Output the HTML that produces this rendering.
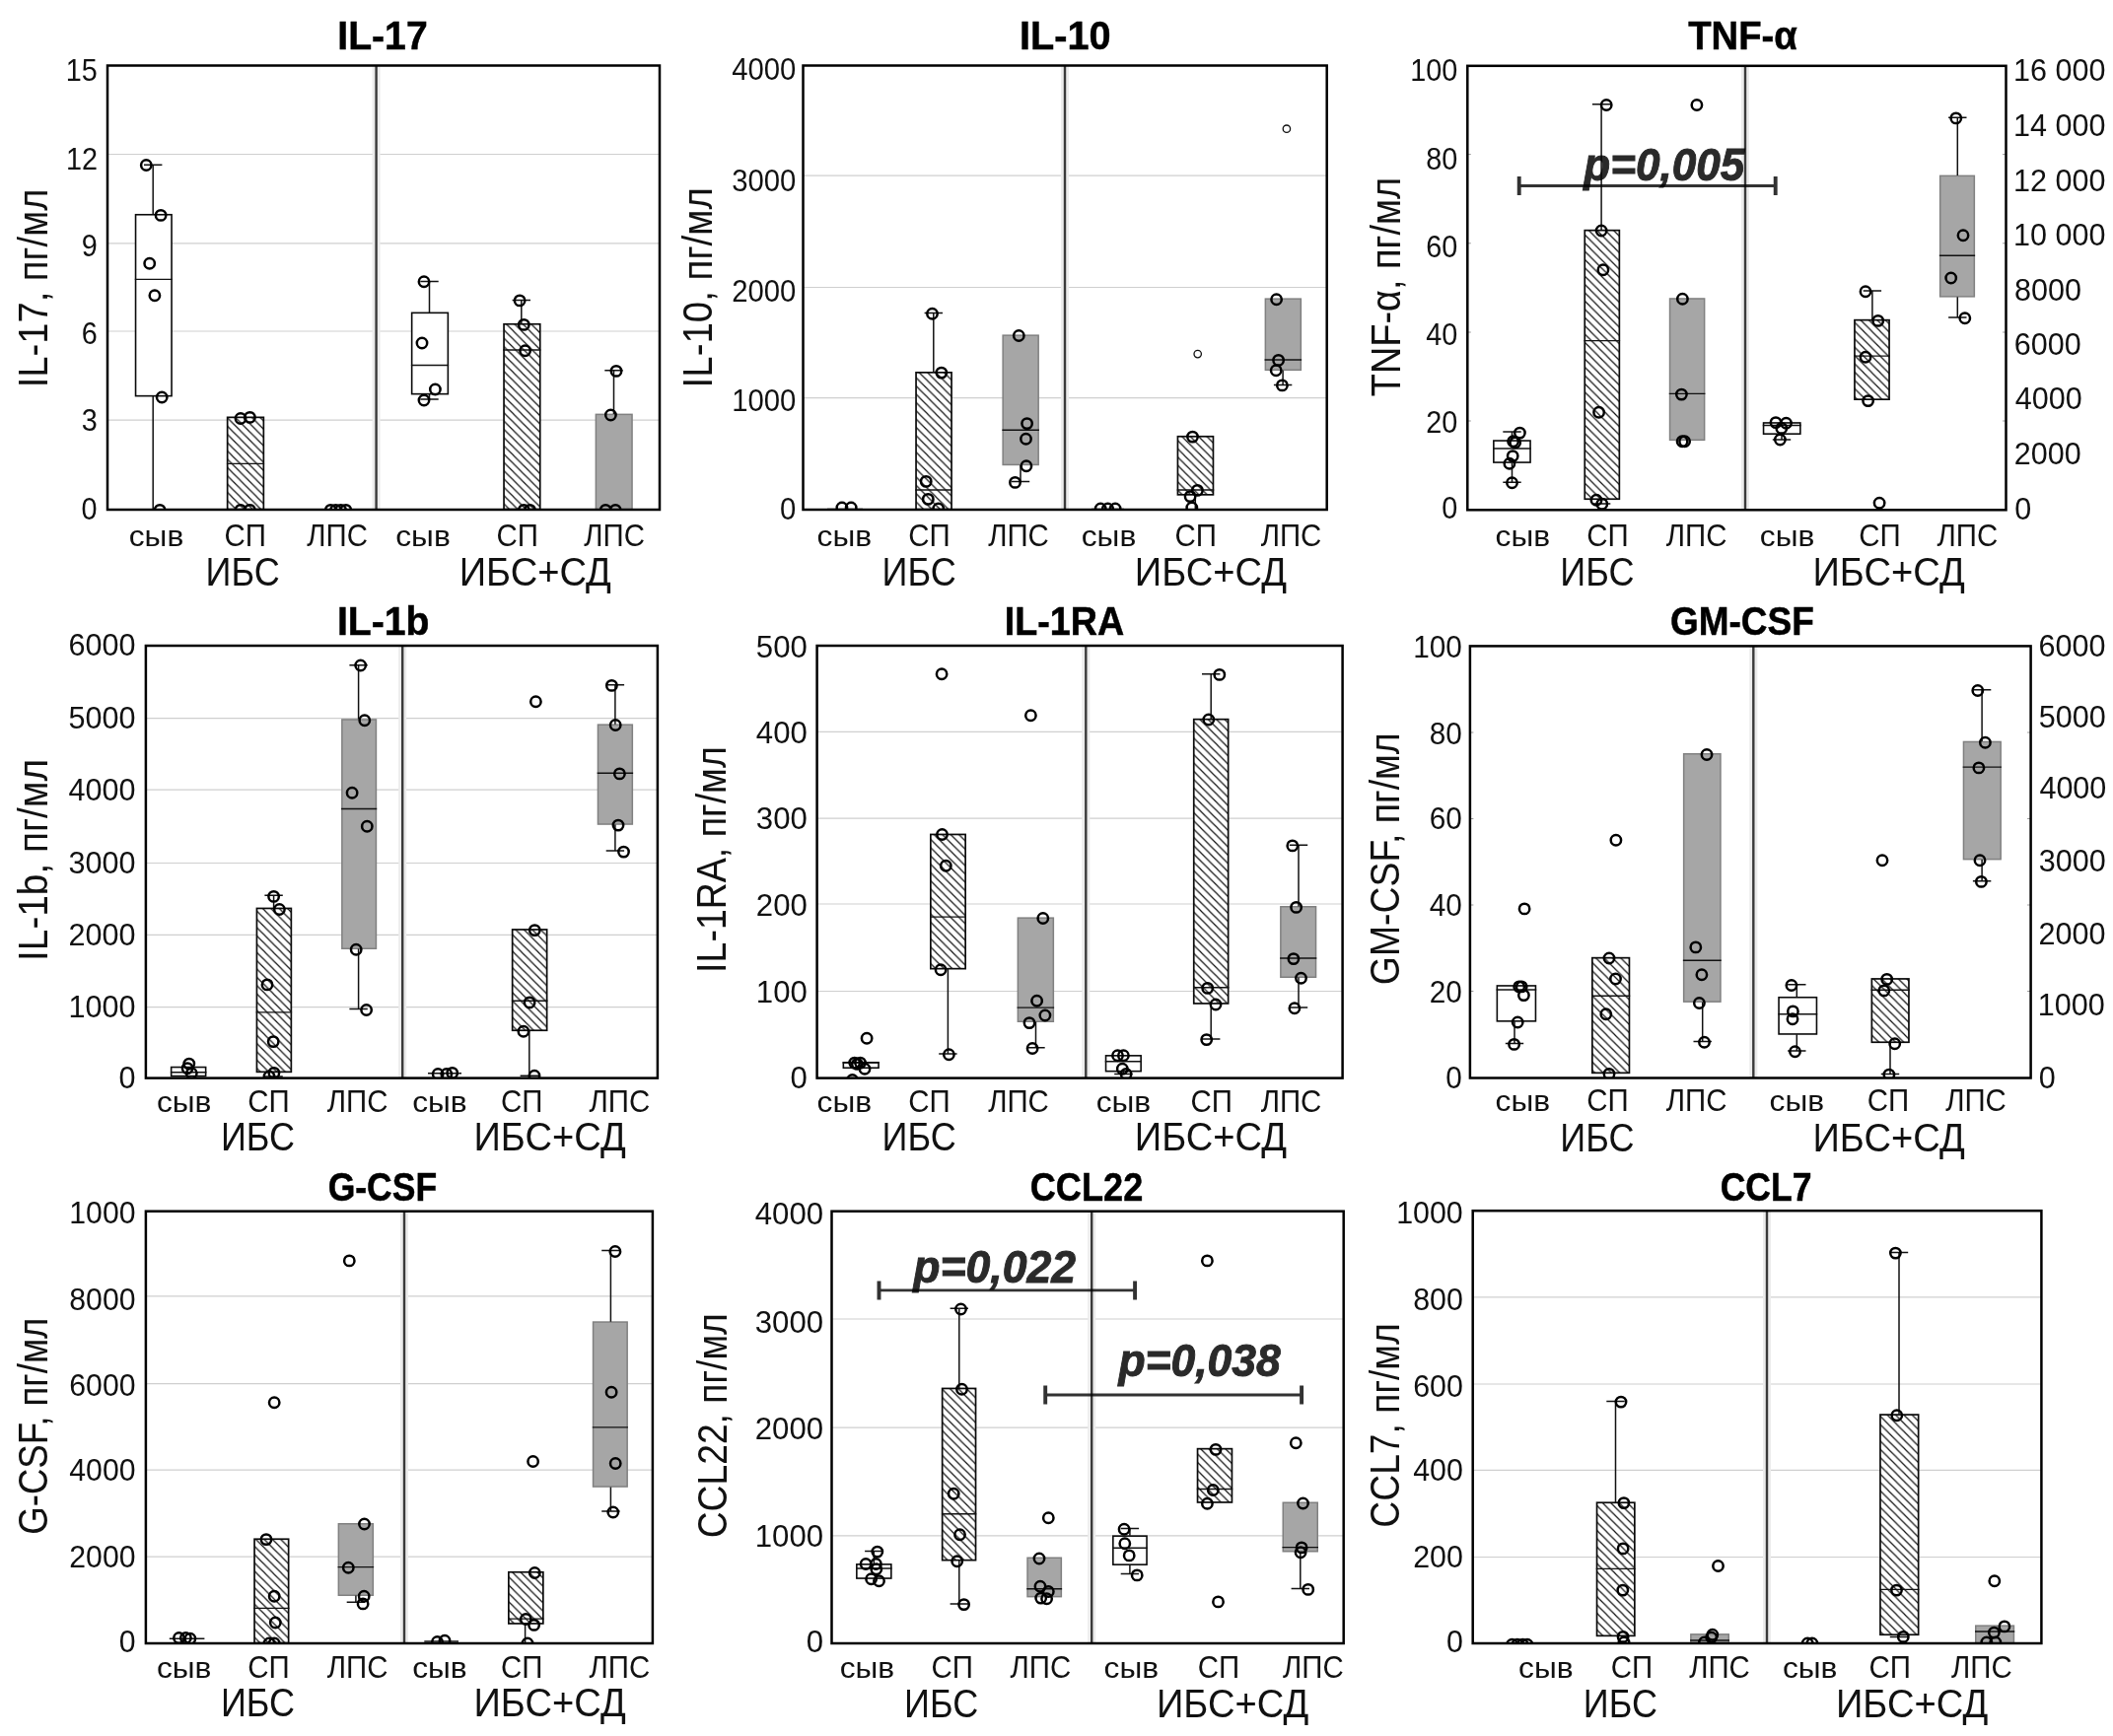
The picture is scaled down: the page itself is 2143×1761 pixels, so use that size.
<!DOCTYPE html>
<html lang="ru"><head><meta charset="utf-8"><title>Cytokines</title>
<style>
html,body{margin:0;padding:0;background:#fff;}
body{width:2143px;height:1761px;overflow:hidden;}
svg{display:block;font-family:"Liberation Sans",sans-serif;}
.fr{fill:none;stroke:#000;stroke-width:2.5}
.dv{stroke:#3a3a3a;stroke-width:2.4}
.dvh{stroke:#ececec;stroke-width:8}
.gr{stroke:#cfcfcf;stroke-width:1.2}
.tk{stroke:#999;stroke-width:1}
.bw{fill:#fff;stroke:#0a0a0a;stroke-width:1.6}
.bh{fill:url(#hatch);stroke:#0a0a0a;stroke-width:1.7}
.bg{fill:#a6a6a6;stroke:#808080;stroke-width:1.5}
.md{stroke:#111;stroke-width:1.4}
.wh{stroke:#111;stroke-width:1.5}
.pt{fill:none;stroke:#000;stroke-width:2.5}
.ps{fill:none;stroke:#111;stroke-width:1.3}
.pvl{stroke:#303030;stroke-width:2.9}
.pvc{stroke:#303030;stroke-width:3.9}
</style></head><body>
<svg width="2143" height="1761" viewBox="0 0 2143 1761">
<defs>
<pattern id="hatch" patternUnits="userSpaceOnUse" width="8.4" height="8.4">
<rect width="8.4" height="8.4" fill="#fff"/>
<path d="M-2.1 -2.1L10.5 10.5M-2.1 6.3L2.1 10.5M6.3 -2.1L10.5 2.1" stroke="#111" stroke-width="1.2" fill="none"/>
</pattern>
<filter id="soft" x="-5%" y="-20%" width="110%" height="140%"><feGaussianBlur stdDeviation="0.75"/></filter>
</defs>
<rect width="2143" height="1761" fill="#fff"/>

<g id="p1">
<clipPath id="c1"><rect x="109" y="66.5" width="560" height="450.5"/></clipPath>
<g clip-path="url(#c1)">
<line class="gr" x1="109" x2="669" y1="156.5" y2="156.5"/>
<line class="gr" x1="109" x2="669" y1="246.8" y2="246.8"/>
<line class="gr" x1="109" x2="669" y1="336" y2="336"/>
<line class="gr" x1="109" x2="669" y1="426.2" y2="426.2"/>
<line class="dvh" x1="381.6" x2="381.6" y1="66.5" y2="517"/>
<rect class="bw" x="137.55" y="217.75" width="36.5" height="183.9"/>
<line class="md" x1="136.8" x2="174.8" y1="283.4" y2="283.4"/>
<path class="wh" d="M155.2 167.3V217.4M146 167.3H164.4" fill="none"/>
<path class="wh" d="M155.2 402V517M146 517H164.4" fill="none"/>
<circle class="pt" cx="148.3" cy="167.5" r="5.2"/>
<circle class="pt" cx="163.1" cy="218.4" r="5.2"/>
<circle class="pt" cx="151.7" cy="267.2" r="5.2"/>
<circle class="pt" cx="156.9" cy="299.7" r="5.2"/>
<circle class="pt" cx="164.2" cy="403" r="5.2"/>
<circle class="pt" cx="162.1" cy="517.4" r="5.2"/>
<rect class="bh" x="230.65" y="423.35" width="36.7" height="93.3"/>
<line class="md" x1="229.9" x2="268.1" y1="470.4" y2="470.4"/>
<circle class="pt" cx="244" cy="424.5" r="5.2"/>
<circle class="pt" cx="253.4" cy="423.4" r="5.2"/>
<circle class="pt" cx="244" cy="517.4" r="5.2"/>
<circle class="pt" cx="253.4" cy="517.4" r="5.2"/>
<line class="md" x1="327" x2="358" y1="517" y2="517" stroke-width="2"/>
<circle class="pt" cx="335.3" cy="517.4" r="5.2"/>
<circle class="pt" cx="340.5" cy="517.4" r="5.2"/>
<circle class="pt" cx="345.6" cy="517.4" r="5.2"/>
<circle class="pt" cx="350.8" cy="517.4" r="5.2"/>
<rect class="bw" x="417.65" y="317.35" width="36.7" height="82.3"/>
<line class="md" x1="416.9" x2="455.1" y1="370.5" y2="370.5"/>
<path class="wh" d="M435.5 285.5V317M426.3 285.5H444.7" fill="none"/>
<path class="wh" d="M435.5 400V405M426.3 405H444.7" fill="none"/>
<circle class="pt" cx="430" cy="285.8" r="5.2"/>
<circle class="pt" cx="428" cy="348" r="5.2"/>
<circle class="pt" cx="441.4" cy="395" r="5.2"/>
<circle class="pt" cx="430" cy="406" r="5.2"/>
<rect class="bh" x="511.05" y="328.75" width="36.7" height="187.9"/>
<line class="md" x1="510.3" x2="548.5" y1="355" y2="355"/>
<path class="wh" d="M528.8 304.5V328.4M519.6 304.5H538" fill="none"/>
<circle class="pt" cx="527.1" cy="304.9" r="5.2"/>
<circle class="pt" cx="531.3" cy="329.4" r="5.2"/>
<circle class="pt" cx="532.6" cy="355.7" r="5.2"/>
<circle class="pt" cx="531.3" cy="517.4" r="5.2"/>
<circle class="pt" cx="537.5" cy="517.4" r="5.2"/>
<rect class="bg" x="604.35" y="420.35" width="36.7" height="96.3"/>
<path class="wh" d="M622.5 375.7V420M613.3 375.7H631.7" fill="none"/>
<circle class="pt" cx="625" cy="376.4" r="5.2"/>
<circle class="pt" cx="619.4" cy="421" r="5.2"/>
<circle class="pt" cx="614.2" cy="517.4" r="5.2"/>
<circle class="pt" cx="624.2" cy="517.4" r="5.2"/>
<line class="dv" x1="381.6" x2="381.6" y1="66.5" y2="517"/>
</g>
<rect class="fr" x="109" y="66.5" width="560" height="450.5"/>
<text transform="translate(342.25 50) scale(0.9798 1)" font-size="40" font-weight="bold" fill="#000" stroke="#000" stroke-width="0.5">IL-17</text>
<text transform="translate(48.39 393.34) rotate(-90) scale(0.9088 1)" font-size="42" fill="#111">IL-17, пг/мл</text>
<text transform="translate(66.65 81.75) scale(0.9300 1)" font-size="31" fill="#111">15</text>
<text transform="translate(66.94 171.55) scale(0.9300 1)" font-size="31" fill="#111">12</text>
<text transform="translate(82.8 259.75) scale(0.9300 1)" font-size="31" fill="#111">9</text>
<text transform="translate(82.65 348.55) scale(0.9300 1)" font-size="31" fill="#111">6</text>
<text transform="translate(82.65 437.35) scale(0.9300 1)" font-size="31" fill="#111">3</text>
<text transform="translate(82.51 526.55) scale(0.9300 1)" font-size="31" fill="#111">0</text>
<text transform="translate(130.73 554) scale(1.0832 1)" font-size="29.3" fill="#111">сыв</text>
<text transform="translate(227.43 554) scale(0.9505 1)" font-size="31" fill="#111">СП</text>
<text transform="translate(311.26 554) scale(0.9489 1)" font-size="31" fill="#111">ЛПС</text>
<text transform="translate(401.23 554) scale(1.0832 1)" font-size="29.3" fill="#111">сыв</text>
<text transform="translate(503.53 554) scale(0.9505 1)" font-size="31" fill="#111">СП</text>
<text transform="translate(592.26 554) scale(0.9489 1)" font-size="31" fill="#111">ЛПС</text>
<text transform="translate(208.62 593.7) scale(0.8855 1)" font-size="40.7" fill="#111">ИБС</text>
<text transform="translate(465.65 593.7) scale(0.9368 1)" font-size="40.7" fill="#111">ИБС+СД</text>
</g>
<g id="p2">
<clipPath id="c2"><rect x="814.5" y="66.5" width="531.2" height="450.5"/></clipPath>
<g clip-path="url(#c2)">
<line class="gr" x1="814.5" x2="1345.7" y1="178.1" y2="178.1"/>
<line class="gr" x1="814.5" x2="1345.7" y1="291.5" y2="291.5"/>
<line class="gr" x1="814.5" x2="1345.7" y1="403.7" y2="403.7"/>
<line class="dvh" x1="1080" x2="1080" y1="66.5" y2="517"/>
<line class="md" x1="839" x2="875" y1="516.5" y2="516.5" stroke-width="2"/>
<circle class="pt" cx="853.9" cy="515" r="5.2"/>
<circle class="pt" cx="863.2" cy="515" r="5.2"/>
<rect class="bh" x="929.05" y="377.85" width="36" height="138.8"/>
<line class="md" x1="928.3" x2="965.8" y1="497" y2="497"/>
<path class="wh" d="M946.8 317.6V377.5M937.6 317.6H956" fill="none"/>
<circle class="pt" cx="945.5" cy="318.3" r="5.2"/>
<circle class="pt" cx="954.8" cy="378.1" r="5.2"/>
<circle class="pt" cx="939.2" cy="488.4" r="5.2"/>
<circle class="pt" cx="941.3" cy="506.4" r="5.2"/>
<circle class="pt" cx="951.7" cy="516" r="5.2"/>
<rect class="bg" x="1017.15" y="340.15" width="36" height="131.3"/>
<line class="md" x1="1016.4" x2="1053.9" y1="436.2" y2="436.2"/>
<path class="wh" d="M1035 471.8V488.4M1025.8 488.4H1044.2" fill="none"/>
<circle class="pt" cx="1033.3" cy="340.5" r="5.2"/>
<circle class="pt" cx="1041.6" cy="429.6" r="5.2"/>
<circle class="pt" cx="1040.5" cy="445.2" r="5.2"/>
<circle class="pt" cx="1040.9" cy="472.8" r="5.2"/>
<circle class="pt" cx="1029.5" cy="489.4" r="5.2"/>
<line class="md" x1="1107" x2="1140" y1="516.5" y2="516.5" stroke-width="2"/>
<circle class="pt" cx="1116.2" cy="516" r="5.2"/>
<circle class="pt" cx="1123.5" cy="516" r="5.2"/>
<circle class="pt" cx="1131.1" cy="516" r="5.2"/>
<rect class="bh" x="1194.45" y="442.75" width="36" height="59.1"/>
<line class="md" x1="1193.7" x2="1231.2" y1="497" y2="497"/>
<path class="wh" d="M1212.3 502.2V517M1203.1 517H1221.5" fill="none"/>
<circle class="pt" cx="1209.5" cy="443.1" r="5.2"/>
<circle class="pt" cx="1214.4" cy="497.4" r="5.2"/>
<circle class="pt" cx="1207.1" cy="503.6" r="5.2"/>
<circle class="pt" cx="1208.8" cy="515" r="5.2"/>
<circle class="ps" cx="1214.7" cy="359.1" r="3.7"/>
<rect class="bg" x="1283.35" y="303.15" width="36" height="72.2"/>
<line class="md" x1="1282.6" x2="1320.1" y1="365" y2="365"/>
<path class="wh" d="M1301.1 375.7V390.6M1291.9 390.6H1310.3" fill="none"/>
<circle class="pt" cx="1294.6" cy="303.8" r="5.2"/>
<circle class="pt" cx="1296.6" cy="365.4" r="5.2"/>
<circle class="pt" cx="1294.2" cy="375.7" r="5.2"/>
<circle class="pt" cx="1300.4" cy="390.9" r="5.2"/>
<circle class="ps" cx="1304.9" cy="130.7" r="3.7"/>
<line class="dv" x1="1080" x2="1080" y1="66.5" y2="517"/>
</g>
<rect class="fr" x="814.5" y="66.5" width="531.2" height="450.5"/>
<text transform="translate(1033.97 50) scale(0.9922 1)" font-size="40" font-weight="bold" fill="#000" stroke="#000" stroke-width="0.5">IL-10</text>
<text transform="translate(721.79 393.41) rotate(-90) scale(0.9157 1)" font-size="42" fill="#111">IL-10, пг/мл</text>
<text transform="translate(742.14 81.25) scale(0.9450 1)" font-size="31" fill="#111">4000</text>
<text transform="translate(742.14 194.05) scale(0.9450 1)" font-size="31" fill="#111">3000</text>
<text transform="translate(742.14 305.75) scale(0.9450 1)" font-size="31" fill="#111">2000</text>
<text transform="translate(742.14 417.25) scale(0.9450 1)" font-size="31" fill="#111">1000</text>
<text transform="translate(791.07 526.65) scale(0.9450 1)" font-size="31" fill="#111">0</text>
<text transform="translate(828.53 554) scale(1.0832 1)" font-size="29.3" fill="#111">сыв</text>
<text transform="translate(921.23 554) scale(0.9505 1)" font-size="31" fill="#111">СП</text>
<text transform="translate(1002.16 554) scale(0.9489 1)" font-size="31" fill="#111">ЛПС</text>
<text transform="translate(1096.73 554) scale(1.0832 1)" font-size="29.3" fill="#111">сыв</text>
<text transform="translate(1191.53 554) scale(0.9505 1)" font-size="31" fill="#111">СП</text>
<text transform="translate(1278.66 554) scale(0.9489 1)" font-size="31" fill="#111">ЛПС</text>
<text transform="translate(894.52 593.7) scale(0.8855 1)" font-size="40.7" fill="#111">ИБС</text>
<text transform="translate(1150.85 593.7) scale(0.9368 1)" font-size="40.7" fill="#111">ИБС+СД</text>
</g>
<g id="p3">
<clipPath id="c3"><rect x="1488.3" y="66.8" width="546.2" height="450.5"/></clipPath>
<g clip-path="url(#c3)">
<line class="tk" x1="1488.3" x2="1491.8" y1="156.6" y2="156.6"/>
<line class="tk" x1="2031" x2="2034.5" y1="156.6" y2="156.6"/>
<line class="tk" x1="1488.3" x2="1491.8" y1="246.8" y2="246.8"/>
<line class="tk" x1="2031" x2="2034.5" y1="246.8" y2="246.8"/>
<line class="tk" x1="1488.3" x2="1491.8" y1="337" y2="337"/>
<line class="tk" x1="2031" x2="2034.5" y1="337" y2="337"/>
<line class="tk" x1="1488.3" x2="1491.8" y1="427" y2="427"/>
<line class="tk" x1="2031" x2="2034.5" y1="427" y2="427"/>
<line class="dvh" x1="1770" x2="1770" y1="66.8" y2="517.3"/>
<rect class="bw" x="1514.85" y="447.05" width="37.2" height="22"/>
<line class="md" x1="1514.1" x2="1552.8" y1="455" y2="455"/>
<path class="wh" d="M1533.5 438V446.7M1524.3 438H1542.7" fill="none"/>
<path class="wh" d="M1533.5 469.4V489.3M1524.3 489.3H1542.7" fill="none"/>
<circle class="pt" cx="1541.4" cy="439.1" r="5.2"/>
<circle class="pt" cx="1534.6" cy="447.8" r="5.2"/>
<circle class="pt" cx="1536.7" cy="448.9" r="5.2"/>
<circle class="pt" cx="1534.2" cy="462.6" r="5.2"/>
<circle class="pt" cx="1530.9" cy="470.2" r="5.2"/>
<circle class="pt" cx="1533.5" cy="489.7" r="5.2"/>
<rect class="bh" x="1607.25" y="233.65" width="35.1" height="272.6"/>
<line class="md" x1="1606.5" x2="1643.1" y1="345.6" y2="345.6"/>
<path class="wh" d="M1624.1 105.8V233.3M1614.9 105.8H1633.3" fill="none"/>
<path class="wh" d="M1624.1 506.6V511M1614.9 511H1633.3" fill="none"/>
<circle class="pt" cx="1629.2" cy="106.5" r="5.2"/>
<circle class="pt" cx="1624.1" cy="234" r="5.2"/>
<circle class="pt" cx="1625.9" cy="273.7" r="5.2"/>
<circle class="pt" cx="1621.6" cy="418.2" r="5.2"/>
<circle class="pt" cx="1619" cy="507.3" r="5.2"/>
<circle class="pt" cx="1624.8" cy="511.3" r="5.2"/>
<rect class="bg" x="1693.55" y="302.95" width="35.1" height="143.4"/>
<line class="md" x1="1692.8" x2="1729.4" y1="399.4" y2="399.4"/>
<circle class="pt" cx="1720.9" cy="106.5" r="5.2"/>
<circle class="pt" cx="1706.4" cy="303.3" r="5.2"/>
<circle class="pt" cx="1705.4" cy="400.1" r="5.2"/>
<circle class="pt" cx="1706.1" cy="447.8" r="5.2"/>
<circle class="pt" cx="1708.6" cy="447.8" r="5.2"/>
<rect class="bw" x="1788.55" y="428.95" width="37.3" height="11.2"/>
<line class="md" x1="1787.8" x2="1826.6" y1="431.5" y2="431.5"/>
<path class="wh" d="M1807 440.5V446M1797.8 446H1816.2" fill="none"/>
<circle class="pt" cx="1801" cy="428.6" r="5.2"/>
<circle class="pt" cx="1811.5" cy="429.3" r="5.2"/>
<circle class="pt" cx="1806.8" cy="434.4" r="5.2"/>
<circle class="pt" cx="1805.4" cy="446" r="5.2"/>
<rect class="bh" x="1880.95" y="324.65" width="35.1" height="80.5"/>
<line class="md" x1="1880.2" x2="1916.8" y1="361.1" y2="361.1"/>
<path class="wh" d="M1898.9 295V324.3M1889.7 295H1908.1" fill="none"/>
<circle class="pt" cx="1892" cy="295.7" r="5.2"/>
<circle class="pt" cx="1904.7" cy="325.4" r="5.2"/>
<circle class="pt" cx="1892" cy="362.2" r="5.2"/>
<circle class="pt" cx="1894.6" cy="406.6" r="5.2"/>
<circle class="pt" cx="1906.1" cy="510.2" r="5.2"/>
<rect class="bg" x="1967.65" y="178.35" width="34.7" height="122.5"/>
<line class="md" x1="1966.9" x2="2003.1" y1="259.3" y2="259.3"/>
<path class="wh" d="M1985.3 119.2V178M1976.1 119.2H1994.5" fill="none"/>
<path class="wh" d="M1985.3 301.2V322.1M1976.1 322.1H1994.5" fill="none"/>
<circle class="pt" cx="1983.8" cy="119.9" r="5.2"/>
<circle class="pt" cx="1991" cy="238.7" r="5.2"/>
<circle class="pt" cx="1978.7" cy="282" r="5.2"/>
<circle class="pt" cx="1992.8" cy="322.8" r="5.2"/>
<line class="dv" x1="1770" x2="1770" y1="66.8" y2="517.3"/>
</g>
<rect class="fr" x="1488.3" y="66.8" width="546.2" height="450.5"/>
<g filter="url(#soft)" style="mix-blend-mode:multiply"><path class="pvl" d="M1540.7 188.5H1800.7" fill="none"/><path class="pvc" d="M1540.7 179V198M1800.7 179V198" fill="none"/></g>
<g filter="url(#soft)" style="mix-blend-mode:multiply"><text transform="translate(1606.28 182.5) scale(0.9593 1)" font-size="46" font-weight="bold" font-style="italic" fill="#2a2a2a" stroke="#2a2a2a" stroke-width="0.9">p=0,005</text></g>
<text transform="translate(1712.22 50) scale(0.9564 1)" font-size="40" font-weight="bold" fill="#000" stroke="#000" stroke-width="0.5">TNF-α</text>
<text transform="translate(1419.79 402.21) rotate(-90) scale(0.9025 1)" font-size="42" fill="#111">TNF-α, пг/мл</text>
<text transform="translate(1430.31 82.35) scale(0.9300 1)" font-size="31" fill="#111">100</text>
<text transform="translate(1446.31 171.55) scale(0.9300 1)" font-size="31" fill="#111">80</text>
<text transform="translate(1446.31 261.05) scale(0.9300 1)" font-size="31" fill="#111">60</text>
<text transform="translate(1446.31 349.85) scale(0.9300 1)" font-size="31" fill="#111">40</text>
<text transform="translate(1446.31 439.25) scale(0.9300 1)" font-size="31" fill="#111">20</text>
<text transform="translate(1462.31 526.25) scale(0.9300 1)" font-size="31" fill="#111">0</text>
<text transform="translate(2042.11 82.35) scale(0.9850 1)" font-size="31" fill="#111">16 000</text>
<text transform="translate(2042.11 138.35) scale(0.9850 1)" font-size="31" fill="#111">14 000</text>
<text transform="translate(2042.11 193.95) scale(0.9850 1)" font-size="31" fill="#111">12 000</text>
<text transform="translate(2042.11 249.15) scale(0.9850 1)" font-size="31" fill="#111">10 000</text>
<text transform="translate(2043.03 305.15) scale(0.9850 1)" font-size="31" fill="#111">8000</text>
<text transform="translate(2042.87 360.35) scale(0.9850 1)" font-size="31" fill="#111">6000</text>
<text transform="translate(2043.79 415.35) scale(0.9850 1)" font-size="31" fill="#111">4000</text>
<text transform="translate(2042.87 471.25) scale(0.9850 1)" font-size="31" fill="#111">2000</text>
<text transform="translate(2043.18 526.75) scale(0.9850 1)" font-size="31" fill="#111">0</text>
<text transform="translate(1516.53 553.9) scale(1.0832 1)" font-size="29.3" fill="#111">сыв</text>
<text transform="translate(1609.13 553.9) scale(0.9505 1)" font-size="31" fill="#111">СП</text>
<text transform="translate(1689.76 553.9) scale(0.9489 1)" font-size="31" fill="#111">ЛПС</text>
<text transform="translate(1784.83 553.9) scale(1.0832 1)" font-size="29.3" fill="#111">сыв</text>
<text transform="translate(1885.33 553.9) scale(0.9505 1)" font-size="31" fill="#111">СП</text>
<text transform="translate(1964.56 553.9) scale(0.9489 1)" font-size="31" fill="#111">ЛПС</text>
<text transform="translate(1582.32 593.5) scale(0.8855 1)" font-size="40.7" fill="#111">ИБС</text>
<text transform="translate(1838.45 593.5) scale(0.9368 1)" font-size="40.7" fill="#111">ИБС+СД</text>
</g>
<g id="p4">
<clipPath id="c4"><rect x="147.9" y="655" width="519" height="438.6"/></clipPath>
<g clip-path="url(#c4)">
<line class="gr" x1="147.9" x2="666.9" y1="728.6" y2="728.6"/>
<line class="gr" x1="147.9" x2="666.9" y1="801.2" y2="801.2"/>
<line class="gr" x1="147.9" x2="666.9" y1="875.5" y2="875.5"/>
<line class="gr" x1="147.9" x2="666.9" y1="948.4" y2="948.4"/>
<line class="gr" x1="147.9" x2="666.9" y1="1021.7" y2="1021.7"/>
<line class="dvh" x1="408.2" x2="408.2" y1="655" y2="1093.6"/>
<rect class="bw" x="173.65" y="1082.55" width="35" height="9"/>
<line class="md" x1="172.9" x2="209.4" y1="1087.7" y2="1087.7"/>
<circle class="pt" cx="191.8" cy="1079.1" r="5.2"/>
<circle class="pt" cx="190.1" cy="1083.6" r="5.2"/>
<circle class="pt" cx="194.3" cy="1088.8" r="5.2"/>
<rect class="bh" x="260.45" y="921.45" width="34.9" height="165.9"/>
<line class="md" x1="259.7" x2="296.1" y1="1026.9" y2="1026.9"/>
<path class="wh" d="M277.6 908.3V921.1M268.4 908.3H286.8" fill="none"/>
<path class="wh" d="M277.6 1087.7V1092M268.4 1092H286.8" fill="none"/>
<circle class="pt" cx="277.6" cy="909.4" r="5.2"/>
<circle class="pt" cx="283.4" cy="922.5" r="5.2"/>
<circle class="pt" cx="271" cy="998.9" r="5.2"/>
<circle class="pt" cx="277.2" cy="1056.6" r="5.2"/>
<circle class="pt" cx="277.9" cy="1088.4" r="5.2"/>
<circle class="pt" cx="273" cy="1092" r="5.2"/>
<rect class="bg" x="346.85" y="729.95" width="34.6" height="232.3"/>
<line class="md" x1="346.1" x2="382.2" y1="820.5" y2="820.5"/>
<path class="wh" d="M363.6 674.7V729.6M354.4 674.7H372.8" fill="none"/>
<path class="wh" d="M363.6 962.6V1023.4M354.4 1023.4H372.8" fill="none"/>
<circle class="pt" cx="365.7" cy="675" r="5.2"/>
<circle class="pt" cx="369.8" cy="730.7" r="5.2"/>
<circle class="pt" cx="357.1" cy="804.3" r="5.2"/>
<circle class="pt" cx="372.3" cy="838.2" r="5.2"/>
<circle class="pt" cx="361.2" cy="963.3" r="5.2"/>
<circle class="pt" cx="371.6" cy="1024.5" r="5.2"/>
<line class="md" x1="434" x2="468" y1="1088.8" y2="1088.8" stroke-width="2"/>
<circle class="pt" cx="444.2" cy="1089.5" r="5.2"/>
<circle class="pt" cx="452.8" cy="1089.5" r="5.2"/>
<circle class="pt" cx="458.7" cy="1088.4" r="5.2"/>
<rect class="bh" x="519.65" y="942.95" width="35" height="102.3"/>
<line class="md" x1="518.9" x2="555.4" y1="1015.2" y2="1015.2"/>
<path class="wh" d="M536.8 1045.6V1091.2M527.6 1091.2H546" fill="none"/>
<circle class="pt" cx="543.4" cy="711.7" r="5.2"/>
<circle class="pt" cx="542.3" cy="943.6" r="5.2"/>
<circle class="pt" cx="537.1" cy="1016.9" r="5.2"/>
<circle class="pt" cx="530.9" cy="1046.3" r="5.2"/>
<circle class="pt" cx="542" cy="1091.2" r="5.2"/>
<rect class="bg" x="606.45" y="735.15" width="34.9" height="100.9"/>
<line class="md" x1="605.7" x2="642.1" y1="784.3" y2="784.3"/>
<path class="wh" d="M623.9 694.7V734.8M614.7 694.7H633.1" fill="none"/>
<path class="wh" d="M623.9 836.4V863.1M614.7 863.1H633.1" fill="none"/>
<circle class="pt" cx="620.4" cy="695.4" r="5.2"/>
<circle class="pt" cx="624.2" cy="735.5" r="5.2"/>
<circle class="pt" cx="628.4" cy="784.9" r="5.2"/>
<circle class="pt" cx="627" cy="837.1" r="5.2"/>
<circle class="pt" cx="632.5" cy="864.1" r="5.2"/>
<line class="dv" x1="408.2" x2="408.2" y1="655" y2="1093.6"/>
</g>
<rect class="fr" x="147.9" y="655" width="519" height="438.6"/>
<text transform="translate(341.95 643.9) scale(0.9803 1)" font-size="40" font-weight="bold" fill="#000" stroke="#000" stroke-width="0.5">IL-1b</text>
<text transform="translate(48.39 974.89) rotate(-90) scale(0.9227 1)" font-size="42" fill="#111">IL-1b, пг/мл</text>
<text transform="translate(69.56 665.15) scale(0.9860 1)" font-size="31" fill="#111">6000</text>
<text transform="translate(69.56 738.95) scale(0.9860 1)" font-size="31" fill="#111">5000</text>
<text transform="translate(69.56 812.05) scale(0.9860 1)" font-size="31" fill="#111">4000</text>
<text transform="translate(69.56 885.85) scale(0.9860 1)" font-size="31" fill="#111">3000</text>
<text transform="translate(69.56 958.55) scale(0.9860 1)" font-size="31" fill="#111">2000</text>
<text transform="translate(69.56 1031.55) scale(0.9860 1)" font-size="31" fill="#111">1000</text>
<text transform="translate(120.61 1104.15) scale(0.9860 1)" font-size="31" fill="#111">0</text>
<text transform="translate(158.93 1127.5) scale(1.0832 1)" font-size="29.3" fill="#111">сыв</text>
<text transform="translate(251.23 1127.5) scale(0.9505 1)" font-size="31" fill="#111">СП</text>
<text transform="translate(331.76 1127.5) scale(0.9489 1)" font-size="31" fill="#111">ЛПС</text>
<text transform="translate(418.13 1127.5) scale(1.0832 1)" font-size="29.3" fill="#111">сыв</text>
<text transform="translate(508.03 1127.5) scale(0.9505 1)" font-size="31" fill="#111">СП</text>
<text transform="translate(597.56 1127.5) scale(0.9489 1)" font-size="31" fill="#111">ЛПС</text>
<text transform="translate(223.92 1167.2) scale(0.8855 1)" font-size="40.7" fill="#111">ИБС</text>
<text transform="translate(480.45 1167.2) scale(0.9368 1)" font-size="40.7" fill="#111">ИБС+СД</text>
</g>
<g id="p5">
<clipPath id="c5"><rect x="828.6" y="655" width="533" height="438.6"/></clipPath>
<g clip-path="url(#c5)">
<line class="gr" x1="828.6" x2="1361.6" y1="742.4" y2="742.4"/>
<line class="gr" x1="828.6" x2="1361.6" y1="830.2" y2="830.2"/>
<line class="gr" x1="828.6" x2="1361.6" y1="917" y2="917"/>
<line class="gr" x1="828.6" x2="1361.6" y1="1005.5" y2="1005.5"/>
<line class="dvh" x1="1101.3" x2="1101.3" y1="655" y2="1093.6"/>
<rect class="bw" x="855.35" y="1077.75" width="35.7" height="5.5"/>
<line class="md" x1="854.6" x2="891.8" y1="1078" y2="1078"/>
<circle class="pt" cx="879.1" cy="1053.2" r="5.2"/>
<circle class="pt" cx="866.7" cy="1078.1" r="5.2"/>
<circle class="pt" cx="872.5" cy="1078.1" r="5.2"/>
<circle class="pt" cx="869.4" cy="1079.4" r="5.2"/>
<circle class="pt" cx="877" cy="1084.3" r="5.2"/>
<circle class="pt" cx="864.5" cy="1095.5" r="5.2"/>
<rect class="bh" x="943.85" y="846.45" width="35.3" height="136.2"/>
<line class="md" x1="943.1" x2="979.9" y1="930.1" y2="930.1"/>
<path class="wh" d="M961.4 983V1069.1M952.2 1069.1H970.6" fill="none"/>
<circle class="pt" cx="955.1" cy="683.7" r="5.2"/>
<circle class="pt" cx="955.5" cy="846.5" r="5.2"/>
<circle class="pt" cx="959.3" cy="878.3" r="5.2"/>
<circle class="pt" cx="954.1" cy="983.7" r="5.2"/>
<circle class="pt" cx="962.4" cy="1069.8" r="5.2"/>
<rect class="bg" x="1032.35" y="931.15" width="36" height="105.1"/>
<line class="md" x1="1031.6" x2="1069.1" y1="1022.1" y2="1022.1"/>
<path class="wh" d="M1050.5 1036.6V1062.8M1041.3 1062.8H1059.7" fill="none"/>
<circle class="pt" cx="1045.4" cy="725.8" r="5.2"/>
<circle class="pt" cx="1057.8" cy="931.5" r="5.2"/>
<circle class="pt" cx="1051.6" cy="1015.2" r="5.2"/>
<circle class="pt" cx="1059.9" cy="1030" r="5.2"/>
<circle class="pt" cx="1044" cy="1037.6" r="5.2"/>
<circle class="pt" cx="1047.1" cy="1063.5" r="5.2"/>
<rect class="bw" x="1121.55" y="1070.85" width="35.6" height="15.8"/>
<line class="md" x1="1120.8" x2="1157.9" y1="1076.7" y2="1076.7"/>
<path class="wh" d="M1139.4 1087V1089.5M1130.2 1089.5H1148.6" fill="none"/>
<circle class="pt" cx="1133.5" cy="1070.8" r="5.2"/>
<circle class="pt" cx="1139.4" cy="1070.8" r="5.2"/>
<circle class="pt" cx="1138.3" cy="1084.3" r="5.2"/>
<circle class="pt" cx="1142.1" cy="1089.5" r="5.2"/>
<rect class="bh" x="1210.75" y="729.65" width="34.9" height="288.3"/>
<line class="md" x1="1210" x2="1246.4" y1="1001.7" y2="1001.7"/>
<path class="wh" d="M1228.2 683.7V729.3M1219 683.7H1237.4" fill="none"/>
<path class="wh" d="M1228.2 1018.3V1053.9M1219 1053.9H1237.4" fill="none"/>
<circle class="pt" cx="1236.8" cy="684.4" r="5.2"/>
<circle class="pt" cx="1225.8" cy="730" r="5.2"/>
<circle class="pt" cx="1224.7" cy="1002.4" r="5.2"/>
<circle class="pt" cx="1233" cy="1019" r="5.2"/>
<circle class="pt" cx="1223.7" cy="1054.6" r="5.2"/>
<rect class="bg" x="1298.85" y="919.75" width="35.7" height="71.5"/>
<line class="md" x1="1298.1" x2="1335.3" y1="972" y2="972"/>
<path class="wh" d="M1317 857.2V919.4M1307.8 857.2H1326.2" fill="none"/>
<path class="wh" d="M1317 991.6V1022.1M1307.8 1022.1H1326.2" fill="none"/>
<circle class="pt" cx="1310.8" cy="857.9" r="5.2"/>
<circle class="pt" cx="1314.6" cy="920.4" r="5.2"/>
<circle class="pt" cx="1311.9" cy="972.6" r="5.2"/>
<circle class="pt" cx="1319.5" cy="992.3" r="5.2"/>
<circle class="pt" cx="1312.9" cy="1022.8" r="5.2"/>
<line class="dv" x1="1101.3" x2="1101.3" y1="655" y2="1093.6"/>
</g>
<rect class="fr" x="828.6" y="655" width="533" height="438.6"/>
<text transform="translate(1018.75 643.9) scale(0.9425 1)" font-size="40" font-weight="bold" fill="#000" stroke="#000" stroke-width="0.5">IL-1RA</text>
<text transform="translate(736.29 986.88) rotate(-90) scale(0.8933 1)" font-size="42" fill="#111">IL-1RA, пг/мл</text>
<text transform="translate(766.82 666.85) scale(1.0050 1)" font-size="31" fill="#111">500</text>
<text transform="translate(766.82 754.05) scale(1.0050 1)" font-size="31" fill="#111">400</text>
<text transform="translate(766.82 841.15) scale(1.0050 1)" font-size="31" fill="#111">300</text>
<text transform="translate(766.82 928.65) scale(1.0050 1)" font-size="31" fill="#111">200</text>
<text transform="translate(766.82 1016.75) scale(1.0050 1)" font-size="31" fill="#111">100</text>
<text transform="translate(801.4 1104.05) scale(1.0050 1)" font-size="31" fill="#111">0</text>
<text transform="translate(828.53 1127.5) scale(1.0832 1)" font-size="29.3" fill="#111">сыв</text>
<text transform="translate(921.23 1127.5) scale(0.9505 1)" font-size="31" fill="#111">СП</text>
<text transform="translate(1002.16 1127.5) scale(0.9489 1)" font-size="31" fill="#111">ЛПС</text>
<text transform="translate(1111.63 1127.5) scale(1.0832 1)" font-size="29.3" fill="#111">сыв</text>
<text transform="translate(1207.43 1127.5) scale(0.9505 1)" font-size="31" fill="#111">СП</text>
<text transform="translate(1278.66 1127.5) scale(0.9489 1)" font-size="31" fill="#111">ЛПС</text>
<text transform="translate(894.52 1167.2) scale(0.8855 1)" font-size="40.7" fill="#111">ИБС</text>
<text transform="translate(1150.85 1167.2) scale(0.9368 1)" font-size="40.7" fill="#111">ИБС+СД</text>
</g>
<g id="p6">
<clipPath id="c6"><rect x="1490.9" y="655.4" width="568.7" height="438.1"/></clipPath>
<g clip-path="url(#c6)">
<line class="tk" x1="1490.9" x2="1494.4" y1="743" y2="743"/>
<line class="tk" x1="2056.1" x2="2059.6" y1="743" y2="743"/>
<line class="tk" x1="1490.9" x2="1494.4" y1="830.5" y2="830.5"/>
<line class="tk" x1="2056.1" x2="2059.6" y1="830.5" y2="830.5"/>
<line class="tk" x1="1490.9" x2="1494.4" y1="918" y2="918"/>
<line class="tk" x1="2056.1" x2="2059.6" y1="918" y2="918"/>
<line class="tk" x1="1490.9" x2="1494.4" y1="1005.5" y2="1005.5"/>
<line class="tk" x1="2056.1" x2="2059.6" y1="1005.5" y2="1005.5"/>
<line class="dvh" x1="1778.3" x2="1778.3" y1="655.4" y2="1093.5"/>
<rect class="bw" x="1518.35" y="999.95" width="39.1" height="35.9"/>
<line class="md" x1="1517.6" x2="1558.2" y1="1004" y2="1004"/>
<path class="wh" d="M1536 1036.2V1058.4M1526.8 1058.4H1545.2" fill="none"/>
<circle class="pt" cx="1546.1" cy="921.9" r="5.2"/>
<circle class="pt" cx="1540.7" cy="1000.9" r="5.2"/>
<circle class="pt" cx="1543.2" cy="1000.9" r="5.2"/>
<circle class="pt" cx="1545.4" cy="1009.6" r="5.2"/>
<circle class="pt" cx="1539.2" cy="1037" r="5.2"/>
<circle class="pt" cx="1535.6" cy="1059.4" r="5.2"/>
<rect class="bh" x="1614.85" y="971.65" width="37.6" height="116.7"/>
<line class="md" x1="1614.1" x2="1653.2" y1="1010.3" y2="1010.3"/>
<circle class="pt" cx="1638.9" cy="852.2" r="5.2"/>
<circle class="pt" cx="1632" cy="972" r="5.2"/>
<circle class="pt" cx="1638.5" cy="993" r="5.2"/>
<circle class="pt" cx="1628.8" cy="1028.7" r="5.2"/>
<circle class="pt" cx="1632" cy="1089.4" r="5.2"/>
<rect class="bg" x="1707.65" y="764.75" width="37.3" height="251.4"/>
<line class="md" x1="1706.9" x2="1745.7" y1="974.2" y2="974.2"/>
<path class="wh" d="M1726.7 1016.5V1056.5M1717.5 1056.5H1735.9" fill="none"/>
<circle class="pt" cx="1731" cy="765.5" r="5.2"/>
<circle class="pt" cx="1719.8" cy="960.9" r="5.2"/>
<circle class="pt" cx="1725.9" cy="988.7" r="5.2"/>
<circle class="pt" cx="1723.4" cy="1017.5" r="5.2"/>
<circle class="pt" cx="1728.5" cy="1057.3" r="5.2"/>
<rect class="bw" x="1804.05" y="1011.75" width="38.4" height="37.2"/>
<line class="md" x1="1803.3" x2="1843.2" y1="1028.7" y2="1028.7"/>
<path class="wh" d="M1822.3 998.8V1011.4M1813.1 998.8H1831.5" fill="none"/>
<path class="wh" d="M1822.3 1049.3V1065.9M1813.1 1065.9H1831.5" fill="none"/>
<circle class="pt" cx="1816.9" cy="999.5" r="5.2"/>
<circle class="pt" cx="1818.4" cy="1025.9" r="5.2"/>
<circle class="pt" cx="1818" cy="1033.8" r="5.2"/>
<circle class="pt" cx="1820.5" cy="1066.7" r="5.2"/>
<rect class="bh" x="1898.35" y="992.95" width="37.6" height="64.3"/>
<line class="md" x1="1897.6" x2="1936.7" y1="1004.2" y2="1004.2"/>
<path class="wh" d="M1917 1057.6V1089.4M1907.8 1089.4H1926.2" fill="none"/>
<circle class="pt" cx="1909" cy="872.7" r="5.2"/>
<circle class="pt" cx="1913.7" cy="993.4" r="5.2"/>
<circle class="pt" cx="1910.8" cy="1004.9" r="5.2"/>
<circle class="pt" cx="1921.7" cy="1058.7" r="5.2"/>
<circle class="pt" cx="1915.9" cy="1090.1" r="5.2"/>
<rect class="bg" x="1991.45" y="752.45" width="37.7" height="119.2"/>
<line class="md" x1="1990.7" x2="2029.9" y1="778.1" y2="778.1"/>
<path class="wh" d="M2010.1 699.8V752.1M2000.9 699.8H2019.3" fill="none"/>
<path class="wh" d="M2010.1 872V893.7M2000.9 893.7H2019.3" fill="none"/>
<circle class="pt" cx="2005.8" cy="700.5" r="5.2"/>
<circle class="pt" cx="2013.4" cy="753.2" r="5.2"/>
<circle class="pt" cx="2006.9" cy="778.9" r="5.2"/>
<circle class="pt" cx="2008" cy="872.7" r="5.2"/>
<circle class="pt" cx="2009.4" cy="894.4" r="5.2"/>
<line class="dv" x1="1778.3" x2="1778.3" y1="655.4" y2="1093.5"/>
</g>
<rect class="fr" x="1490.9" y="655.4" width="568.7" height="438.1"/>
<text transform="translate(1693.92 643.9) scale(0.9251 1)" font-size="40" font-weight="bold" fill="#000" stroke="#000" stroke-width="0.5">GM-CSF</text>
<text transform="translate(1419.49 999.17) rotate(-90) scale(0.8901 1)" font-size="42" fill="#111">GM-CSF, пг/мл</text>
<text transform="translate(1433.19 666.85) scale(0.9600 1)" font-size="31" fill="#111">100</text>
<text transform="translate(1449.71 754.85) scale(0.9600 1)" font-size="31" fill="#111">80</text>
<text transform="translate(1449.71 841.35) scale(0.9600 1)" font-size="31" fill="#111">60</text>
<text transform="translate(1449.71 928.75) scale(0.9600 1)" font-size="31" fill="#111">40</text>
<text transform="translate(1449.71 1016.55) scale(0.9600 1)" font-size="31" fill="#111">20</text>
<text transform="translate(1466.22 1103.55) scale(0.9600 1)" font-size="31" fill="#111">0</text>
<text transform="translate(2067.47 665.55) scale(0.9860 1)" font-size="31" fill="#111">6000</text>
<text transform="translate(2067.78 738.05) scale(0.9860 1)" font-size="31" fill="#111">5000</text>
<text transform="translate(2068.39 810.35) scale(0.9860 1)" font-size="31" fill="#111">4000</text>
<text transform="translate(2067.78 884.35) scale(0.9860 1)" font-size="31" fill="#111">3000</text>
<text transform="translate(2067.47 958.35) scale(0.9860 1)" font-size="31" fill="#111">2000</text>
<text transform="translate(2066.71 1029.75) scale(0.9860 1)" font-size="31" fill="#111">1000</text>
<text transform="translate(2067.78 1103.55) scale(0.9860 1)" font-size="31" fill="#111">0</text>
<text transform="translate(1516.53 1127.3) scale(1.0832 1)" font-size="29.3" fill="#111">сыв</text>
<text transform="translate(1609.13 1127.3) scale(0.9505 1)" font-size="31" fill="#111">СП</text>
<text transform="translate(1689.76 1127.3) scale(0.9489 1)" font-size="31" fill="#111">ЛПС</text>
<text transform="translate(1794.53 1127.3) scale(1.0832 1)" font-size="29.3" fill="#111">сыв</text>
<text transform="translate(1893.63 1127.3) scale(0.9505 1)" font-size="31" fill="#111">СП</text>
<text transform="translate(1973.16 1127.3) scale(0.9489 1)" font-size="31" fill="#111">ЛПС</text>
<text transform="translate(1582.32 1167.8) scale(0.8855 1)" font-size="40.7" fill="#111">ИБС</text>
<text transform="translate(1838.45 1167.8) scale(0.9368 1)" font-size="40.7" fill="#111">ИБС+СД</text>
</g>
<g id="p7">
<clipPath id="c7"><rect x="147.9" y="1228.7" width="514" height="438.3"/></clipPath>
<g clip-path="url(#c7)">
<line class="gr" x1="147.9" x2="661.9" y1="1314.8" y2="1314.8"/>
<line class="gr" x1="147.9" x2="661.9" y1="1403.6" y2="1403.6"/>
<line class="gr" x1="147.9" x2="661.9" y1="1491.1" y2="1491.1"/>
<line class="gr" x1="147.9" x2="661.9" y1="1579.2" y2="1579.2"/>
<line class="dvh" x1="410" x2="410" y1="1228.7" y2="1667"/>
<line class="md" x1="171.8" x2="207.4" y1="1662.2" y2="1662.2" stroke-width="2"/>
<circle class="pt" cx="181.5" cy="1661.5" r="5.2"/>
<circle class="pt" cx="188.4" cy="1661.5" r="5.2"/>
<circle class="pt" cx="192.9" cy="1662.2" r="5.2"/>
<rect class="bh" x="258.05" y="1561.25" width="34.6" height="105.4"/>
<line class="md" x1="257.3" x2="293.4" y1="1631.4" y2="1631.4"/>
<circle class="pt" cx="278.2" cy="1422.7" r="5.2"/>
<circle class="pt" cx="270" cy="1561.6" r="5.2"/>
<circle class="pt" cx="278.2" cy="1619.3" r="5.2"/>
<circle class="pt" cx="279.3" cy="1646" r="5.2"/>
<circle class="pt" cx="273" cy="1667" r="5.2"/>
<circle class="pt" cx="278.2" cy="1667" r="5.2"/>
<rect class="bg" x="343.35" y="1545.75" width="35" height="72.5"/>
<line class="md" x1="342.6" x2="379.1" y1="1589.6" y2="1589.6"/>
<path class="wh" d="M360.9 1618.6V1625.2M351.7 1625.2H370.1" fill="none"/>
<circle class="pt" cx="354.3" cy="1278.9" r="5.2"/>
<circle class="pt" cx="369.5" cy="1546" r="5.2"/>
<circle class="pt" cx="353.3" cy="1590.3" r="5.2"/>
<circle class="pt" cx="369.2" cy="1619.3" r="5.2"/>
<circle class="pt" cx="368.1" cy="1626.9" r="5.2"/>
<line class="md" x1="430.3" x2="465" y1="1665" y2="1665" stroke-width="2"/>
<circle class="pt" cx="443.5" cy="1665.5" r="5.2"/>
<circle class="pt" cx="451" cy="1664.3" r="5.2"/>
<rect class="bh" x="515.85" y="1594.75" width="35" height="52.2"/>
<line class="md" x1="515.1" x2="551.6" y1="1642.1" y2="1642.1"/>
<path class="wh" d="M532.6 1647.3V1667M523.4 1667H541.8" fill="none"/>
<circle class="pt" cx="540.6" cy="1482.5" r="5.2"/>
<circle class="pt" cx="542.3" cy="1595.5" r="5.2"/>
<circle class="pt" cx="533.3" cy="1642.5" r="5.2"/>
<circle class="pt" cx="541.6" cy="1648.4" r="5.2"/>
<circle class="pt" cx="535" cy="1667" r="5.2"/>
<rect class="bg" x="601.55" y="1341.05" width="34.6" height="167"/>
<line class="md" x1="600.8" x2="636.9" y1="1447.9" y2="1447.9"/>
<path class="wh" d="M619.4 1268.5V1340.7M610.2 1268.5H628.6" fill="none"/>
<path class="wh" d="M619.4 1508.4V1532.9M610.2 1532.9H628.6" fill="none"/>
<circle class="pt" cx="623.9" cy="1269.5" r="5.2"/>
<circle class="pt" cx="620.1" cy="1412.3" r="5.2"/>
<circle class="pt" cx="624.2" cy="1484.5" r="5.2"/>
<circle class="pt" cx="621.8" cy="1534" r="5.2"/>
<line class="dv" x1="410" x2="410" y1="1228.7" y2="1667"/>
</g>
<rect class="fr" x="147.9" y="1228.7" width="514" height="438.3"/>
<text transform="translate(332.68 1217.6) scale(0.8880 1)" font-size="40" font-weight="bold" fill="#000" stroke="#000" stroke-width="0.5">G-CSF</text>
<text transform="translate(48.39 1556.83) rotate(-90) scale(0.8732 1)" font-size="42" fill="#111">G-CSF, пг/мл</text>
<text transform="translate(70.31 1241.25) scale(0.9750 1)" font-size="31" fill="#111">1000</text>
<text transform="translate(70.31 1328.55) scale(0.9750 1)" font-size="31" fill="#111">8000</text>
<text transform="translate(70.31 1415.85) scale(0.9750 1)" font-size="31" fill="#111">6000</text>
<text transform="translate(70.31 1502.25) scale(0.9750 1)" font-size="31" fill="#111">4000</text>
<text transform="translate(70.31 1589.95) scale(0.9750 1)" font-size="31" fill="#111">2000</text>
<text transform="translate(120.78 1675.95) scale(0.9750 1)" font-size="31" fill="#111">0</text>
<text transform="translate(158.93 1701.9) scale(1.0832 1)" font-size="29.3" fill="#111">сыв</text>
<text transform="translate(251.23 1701.9) scale(0.9505 1)" font-size="31" fill="#111">СП</text>
<text transform="translate(331.76 1701.9) scale(0.9489 1)" font-size="31" fill="#111">ЛПС</text>
<text transform="translate(418.13 1701.9) scale(1.0832 1)" font-size="29.3" fill="#111">сыв</text>
<text transform="translate(508.03 1701.9) scale(0.9505 1)" font-size="31" fill="#111">СП</text>
<text transform="translate(597.56 1701.9) scale(0.9489 1)" font-size="31" fill="#111">ЛПС</text>
<text transform="translate(223.92 1740.9) scale(0.8855 1)" font-size="40.7" fill="#111">ИБС</text>
<text transform="translate(480.45 1740.9) scale(0.9368 1)" font-size="40.7" fill="#111">ИБС+СД</text>
</g>
<g id="p8">
<clipPath id="c8"><rect x="843.5" y="1228.7" width="519.2" height="438.3"/></clipPath>
<g clip-path="url(#c8)">
<line class="gr" x1="843.5" x2="1362.7" y1="1338" y2="1338"/>
<line class="gr" x1="843.5" x2="1362.7" y1="1448.2" y2="1448.2"/>
<line class="gr" x1="843.5" x2="1362.7" y1="1557.8" y2="1557.8"/>
<line class="dvh" x1="1107.2" x2="1107.2" y1="1228.7" y2="1667"/>
<rect class="bw" x="868.85" y="1586.85" width="35" height="14.2"/>
<line class="md" x1="868.1" x2="904.6" y1="1591" y2="1591"/>
<path class="wh" d="M886.3 1573.4V1586.5M877.1 1573.4H895.5" fill="none"/>
<circle class="pt" cx="889.8" cy="1574.1" r="5.2"/>
<circle class="pt" cx="878.1" cy="1586.5" r="5.2"/>
<circle class="pt" cx="888.4" cy="1586.5" r="5.2"/>
<circle class="pt" cx="888.8" cy="1591.7" r="5.2"/>
<circle class="pt" cx="883.6" cy="1601.7" r="5.2"/>
<circle class="pt" cx="891.5" cy="1603.8" r="5.2"/>
<rect class="bh" x="955.65" y="1408.45" width="33.9" height="174.2"/>
<line class="md" x1="954.9" x2="990.3" y1="1535.7" y2="1535.7"/>
<path class="wh" d="M972.8 1327.3V1408.1M963.6 1327.3H982" fill="none"/>
<path class="wh" d="M972.8 1583V1626.9M963.6 1626.9H982" fill="none"/>
<circle class="pt" cx="974.5" cy="1328" r="5.2"/>
<circle class="pt" cx="975.5" cy="1409.2" r="5.2"/>
<circle class="pt" cx="967.2" cy="1515.3" r="5.2"/>
<circle class="pt" cx="973.5" cy="1556.8" r="5.2"/>
<circle class="pt" cx="970.7" cy="1583.7" r="5.2"/>
<circle class="pt" cx="977.6" cy="1627.6" r="5.2"/>
<rect class="bg" x="1042.05" y="1580.25" width="34.3" height="39.4"/>
<line class="md" x1="1041.3" x2="1077.1" y1="1611.7" y2="1611.7"/>
<circle class="pt" cx="1063.3" cy="1539.8" r="5.2"/>
<circle class="pt" cx="1054" cy="1581" r="5.2"/>
<circle class="pt" cx="1055" cy="1609.3" r="5.2"/>
<circle class="pt" cx="1063.3" cy="1614.5" r="5.2"/>
<circle class="pt" cx="1055.7" cy="1621.1" r="5.2"/>
<circle class="pt" cx="1061.6" cy="1621.7" r="5.2"/>
<rect class="bw" x="1128.85" y="1558.15" width="34.2" height="29"/>
<line class="md" x1="1128.1" x2="1163.8" y1="1570.3" y2="1570.3"/>
<path class="wh" d="M1145.9 1550.5V1557.8M1136.7 1550.5H1155.1" fill="none"/>
<path class="wh" d="M1145.9 1587.5V1596.5M1136.7 1596.5H1155.1" fill="none"/>
<circle class="pt" cx="1140.1" cy="1551.2" r="5.2"/>
<circle class="pt" cx="1140.8" cy="1565.8" r="5.2"/>
<circle class="pt" cx="1145.2" cy="1577.9" r="5.2"/>
<circle class="pt" cx="1153.2" cy="1597.9" r="5.2"/>
<rect class="bh" x="1214.55" y="1469.65" width="34.9" height="54.3"/>
<line class="md" x1="1213.8" x2="1250.2" y1="1510.5" y2="1510.5"/>
<circle class="pt" cx="1224.4" cy="1278.9" r="5.2"/>
<circle class="pt" cx="1233" cy="1470.4" r="5.2"/>
<circle class="pt" cx="1230.3" cy="1511.5" r="5.2"/>
<circle class="pt" cx="1224.4" cy="1525.3" r="5.2"/>
<circle class="pt" cx="1235.5" cy="1624.9" r="5.2"/>
<rect class="bg" x="1301.25" y="1524.25" width="35" height="49.5"/>
<line class="md" x1="1300.5" x2="1337" y1="1569.6" y2="1569.6"/>
<path class="wh" d="M1318.8 1574.1V1611.4M1309.6 1611.4H1328" fill="none"/>
<circle class="pt" cx="1314.3" cy="1463.8" r="5.2"/>
<circle class="pt" cx="1321.5" cy="1525" r="5.2"/>
<circle class="pt" cx="1320.1" cy="1569.9" r="5.2"/>
<circle class="pt" cx="1319.1" cy="1574.7" r="5.2"/>
<circle class="pt" cx="1326.7" cy="1612.4" r="5.2"/>
<line class="dv" x1="1107.2" x2="1107.2" y1="1228.7" y2="1667"/>
</g>
<rect class="fr" x="843.5" y="1228.7" width="519.2" height="438.3"/>
<g filter="url(#soft)" style="mix-blend-mode:multiply"><path class="pvl" d="M891.5 1308.9H1151.1" fill="none"/><path class="pvc" d="M891.5 1299.4V1318.4M1151.1 1299.4V1318.4" fill="none"/></g>
<g filter="url(#soft)" style="mix-blend-mode:multiply"><text transform="translate(926.29 1300.5) scale(0.9693 1)" font-size="46" font-weight="bold" font-style="italic" fill="#2a2a2a" stroke="#2a2a2a" stroke-width="0.9">p=0,022</text></g>
<g filter="url(#soft)" style="mix-blend-mode:multiply"><path class="pvl" d="M1060.2 1415H1320.1" fill="none"/><path class="pvc" d="M1060.2 1405.5V1424.5M1320.1 1405.5V1424.5" fill="none"/></g>
<g filter="url(#soft)" style="mix-blend-mode:multiply"><text transform="translate(1134.39 1396) scale(0.9667 1)" font-size="46" font-weight="bold" font-style="italic" fill="#2a2a2a" stroke="#2a2a2a" stroke-width="0.9">p=0,038</text></g>
<text transform="translate(1044.75 1217.6) scale(0.9044 1)" font-size="40" font-weight="bold" fill="#000" stroke="#000" stroke-width="0.5">CCL22</text>
<text transform="translate(736.99 1560.36) rotate(-90) scale(0.8874 1)" font-size="42" fill="#111">CCL22, пг/мл</text>
<text transform="translate(765.77 1241.75) scale(1.0050 1)" font-size="31" fill="#111">4000</text>
<text transform="translate(765.77 1351.85) scale(1.0050 1)" font-size="31" fill="#111">3000</text>
<text transform="translate(765.77 1460.15) scale(1.0050 1)" font-size="31" fill="#111">2000</text>
<text transform="translate(765.77 1568.75) scale(1.0050 1)" font-size="31" fill="#111">1000</text>
<text transform="translate(817.8 1675.95) scale(1.0050 1)" font-size="31" fill="#111">0</text>
<text transform="translate(851.63 1701.9) scale(1.0832 1)" font-size="29.3" fill="#111">сыв</text>
<text transform="translate(944.43 1701.9) scale(0.9505 1)" font-size="31" fill="#111">СП</text>
<text transform="translate(1024.56 1701.9) scale(0.9489 1)" font-size="31" fill="#111">ЛПС</text>
<text transform="translate(1119.53 1701.9) scale(1.0832 1)" font-size="29.3" fill="#111">сыв</text>
<text transform="translate(1214.73 1701.9) scale(0.9505 1)" font-size="31" fill="#111">СП</text>
<text transform="translate(1301.06 1701.9) scale(0.9489 1)" font-size="31" fill="#111">ЛПС</text>
<text transform="translate(917.02 1741.5) scale(0.8855 1)" font-size="40.7" fill="#111">ИБС</text>
<text transform="translate(1172.95 1741.5) scale(0.9368 1)" font-size="40.7" fill="#111">ИБС+СД</text>
</g>
<g id="p9">
<clipPath id="c9"><rect x="1493.7" y="1228.2" width="576.7" height="438.8"/></clipPath>
<g clip-path="url(#c9)">
<line class="gr" x1="1493.7" x2="2070.4" y1="1315.9" y2="1315.9"/>
<line class="gr" x1="1493.7" x2="2070.4" y1="1404" y2="1404"/>
<line class="gr" x1="1493.7" x2="2070.4" y1="1491.4" y2="1491.4"/>
<line class="gr" x1="1493.7" x2="2070.4" y1="1579.5" y2="1579.5"/>
<line class="dvh" x1="1792" x2="1792" y1="1228.2" y2="1667"/>
<line class="md" x1="1527" x2="1553.3" y1="1667" y2="1667" stroke-width="2"/>
<circle class="pt" cx="1533.5" cy="1668.3" r="5.2"/>
<circle class="pt" cx="1538.9" cy="1668.3" r="5.2"/>
<circle class="pt" cx="1544.3" cy="1668.3" r="5.2"/>
<circle class="pt" cx="1549" cy="1668.3" r="5.2"/>
<rect class="bh" x="1619.55" y="1524.25" width="38.3" height="135.1"/>
<line class="md" x1="1618.8" x2="1658.6" y1="1591.4" y2="1591.4"/>
<path class="wh" d="M1638.5 1421.4V1523.9M1629.3 1421.4H1647.7" fill="none"/>
<circle class="pt" cx="1644" cy="1422.1" r="5.2"/>
<circle class="pt" cx="1646.9" cy="1524.6" r="5.2"/>
<circle class="pt" cx="1646.1" cy="1570.9" r="5.2"/>
<circle class="pt" cx="1645.8" cy="1613.1" r="5.2"/>
<circle class="pt" cx="1646.1" cy="1660.4" r="5.2"/>
<circle class="pt" cx="1647" cy="1666" r="5.2"/>
<rect class="bg" x="1714.85" y="1657.85" width="38.4" height="8.8"/>
<line class="md" x1="1714.1" x2="1754" y1="1664" y2="1664"/>
<circle class="pt" cx="1742.5" cy="1588.5" r="5.2"/>
<circle class="pt" cx="1736.8" cy="1658.2" r="5.2"/>
<circle class="pt" cx="1735.7" cy="1661" r="5.2"/>
<circle class="pt" cx="1728.5" cy="1666" r="5.2"/>
<line class="md" x1="1826" x2="1846" y1="1667" y2="1667" stroke-width="2"/>
<circle class="pt" cx="1833.2" cy="1667" r="5.2"/>
<circle class="pt" cx="1837.9" cy="1667" r="5.2"/>
<rect class="bh" x="1906.95" y="1435.05" width="38.7" height="223.2"/>
<line class="md" x1="1906.2" x2="1946.4" y1="1612.4" y2="1612.4"/>
<path class="wh" d="M1926 1270.4V1434.7M1916.8 1270.4H1935.2" fill="none"/>
<path class="wh" d="M1926 1658.6V1660.4M1916.8 1660.4H1935.2" fill="none"/>
<circle class="pt" cx="1922.4" cy="1271.1" r="5.2"/>
<circle class="pt" cx="1923.8" cy="1435.8" r="5.2"/>
<circle class="pt" cx="1923.5" cy="1613.1" r="5.2"/>
<circle class="pt" cx="1930.3" cy="1660.4" r="5.2"/>
<rect class="bg" x="2003.75" y="1649.15" width="38.7" height="17.5"/>
<line class="md" x1="2003" x2="2043.2" y1="1655" y2="1655"/>
<circle class="pt" cx="2022.8" cy="1603.7" r="5.2"/>
<circle class="pt" cx="2032.9" cy="1649.9" r="5.2"/>
<circle class="pt" cx="2022.4" cy="1656.1" r="5.2"/>
<circle class="pt" cx="2014.8" cy="1666" r="5.2"/>
<circle class="pt" cx="2023.8" cy="1666" r="5.2"/>
<line class="dv" x1="1792" x2="1792" y1="1228.2" y2="1667"/>
</g>
<rect class="fr" x="1493.7" y="1228.2" width="576.7" height="438.8"/>
<text transform="translate(1744.63 1217.6) scale(0.8903 1)" font-size="40" font-weight="bold" fill="#000" stroke="#000" stroke-width="0.5">CCL7</text>
<text transform="translate(1419.29 1549.66) rotate(-90) scale(0.8869 1)" font-size="42" fill="#111">CCL7, пг/мл</text>
<text transform="translate(1416.17 1241.45) scale(0.9800 1)" font-size="31" fill="#111">1000</text>
<text transform="translate(1433.18 1328.85) scale(0.9800 1)" font-size="31" fill="#111">800</text>
<text transform="translate(1433.18 1416.75) scale(0.9800 1)" font-size="31" fill="#111">600</text>
<text transform="translate(1433.18 1501.95) scale(0.9800 1)" font-size="31" fill="#111">400</text>
<text transform="translate(1433.18 1589.95) scale(0.9800 1)" font-size="31" fill="#111">200</text>
<text transform="translate(1466.9 1675.85) scale(0.9800 1)" font-size="31" fill="#111">0</text>
<text transform="translate(1540.03 1702.2) scale(1.0832 1)" font-size="29.3" fill="#111">сыв</text>
<text transform="translate(1633.63 1702.2) scale(0.9505 1)" font-size="31" fill="#111">СП</text>
<text transform="translate(1713.16 1702.2) scale(0.9489 1)" font-size="31" fill="#111">ЛПС</text>
<text transform="translate(1807.93 1702.2) scale(1.0832 1)" font-size="29.3" fill="#111">сыв</text>
<text transform="translate(1895.43 1702.2) scale(0.9505 1)" font-size="31" fill="#111">СП</text>
<text transform="translate(1978.96 1702.2) scale(0.9489 1)" font-size="31" fill="#111">ЛПС</text>
<text transform="translate(1605.82 1742.1) scale(0.8855 1)" font-size="40.7" fill="#111">ИБС</text>
<text transform="translate(1861.95 1742.1) scale(0.9368 1)" font-size="40.7" fill="#111">ИБС+СД</text>
</g>
</svg>
</body></html>
